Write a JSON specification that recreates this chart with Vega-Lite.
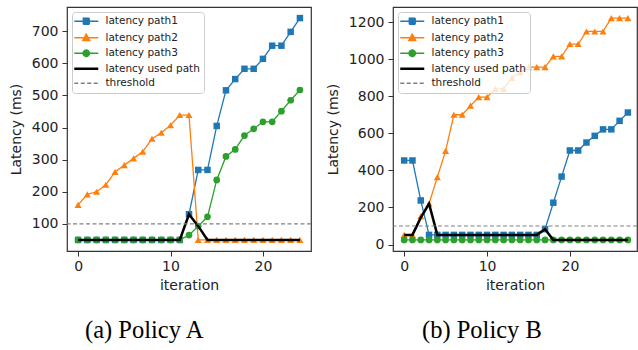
{
  "$schema": "https://vega.github.io/schema/vega-lite/v6.json",
  "padding": {"left": 8, "top": 6, "right": 0, "bottom": 0},
  "spacing": 12,
  "datasets": {
    "a": [
      {"series":"latency path1","iteration":0,"latency":50},{"series":"latency path1","iteration":1,"latency":50},{"series":"latency path1","iteration":2,"latency":50},{"series":"latency path1","iteration":3,"latency":50},{"series":"latency path1","iteration":4,"latency":50},{"series":"latency path1","iteration":5,"latency":50},{"series":"latency path1","iteration":6,"latency":50},{"series":"latency path1","iteration":7,"latency":50},{"series":"latency path1","iteration":8,"latency":50},{"series":"latency path1","iteration":9,"latency":50},{"series":"latency path1","iteration":10,"latency":50},{"series":"latency path1","iteration":11,"latency":50},{"series":"latency path1","iteration":12,"latency":130},{"series":"latency path1","iteration":13,"latency":268},{"series":"latency path1","iteration":14,"latency":268},{"series":"latency path1","iteration":15,"latency":405},{"series":"latency path1","iteration":16,"latency":516},{"series":"latency path1","iteration":17,"latency":551},{"series":"latency path1","iteration":18,"latency":583},{"series":"latency path1","iteration":19,"latency":583},{"series":"latency path1","iteration":20,"latency":614},{"series":"latency path1","iteration":21,"latency":655},{"series":"latency path1","iteration":22,"latency":655},{"series":"latency path1","iteration":23,"latency":698},{"series":"latency path1","iteration":24,"latency":741},
      {"series":"latency path2","iteration":0,"latency":159},{"series":"latency path2","iteration":1,"latency":192},{"series":"latency path2","iteration":2,"latency":200},{"series":"latency path2","iteration":3,"latency":222},{"series":"latency path2","iteration":4,"latency":262},{"series":"latency path2","iteration":5,"latency":283},{"series":"latency path2","iteration":6,"latency":304},{"series":"latency path2","iteration":7,"latency":325},{"series":"latency path2","iteration":8,"latency":365},{"series":"latency path2","iteration":9,"latency":384},{"series":"latency path2","iteration":10,"latency":407},{"series":"latency path2","iteration":11,"latency":439},{"series":"latency path2","iteration":12,"latency":439},{"series":"latency path2","iteration":13,"latency":50},{"series":"latency path2","iteration":14,"latency":50},{"series":"latency path2","iteration":15,"latency":50},{"series":"latency path2","iteration":16,"latency":50},{"series":"latency path2","iteration":17,"latency":50},{"series":"latency path2","iteration":18,"latency":50},{"series":"latency path2","iteration":19,"latency":50},{"series":"latency path2","iteration":20,"latency":50},{"series":"latency path2","iteration":21,"latency":50},{"series":"latency path2","iteration":22,"latency":50},{"series":"latency path2","iteration":23,"latency":50},{"series":"latency path2","iteration":24,"latency":50},
      {"series":"latency path3","iteration":0,"latency":50},{"series":"latency path3","iteration":1,"latency":50},{"series":"latency path3","iteration":2,"latency":50},{"series":"latency path3","iteration":3,"latency":50},{"series":"latency path3","iteration":4,"latency":50},{"series":"latency path3","iteration":5,"latency":50},{"series":"latency path3","iteration":6,"latency":50},{"series":"latency path3","iteration":7,"latency":50},{"series":"latency path3","iteration":8,"latency":50},{"series":"latency path3","iteration":9,"latency":50},{"series":"latency path3","iteration":10,"latency":50},{"series":"latency path3","iteration":11,"latency":50},{"series":"latency path3","iteration":12,"latency":65},{"series":"latency path3","iteration":13,"latency":93},{"series":"latency path3","iteration":14,"latency":122},{"series":"latency path3","iteration":15,"latency":237},{"series":"latency path3","iteration":16,"latency":310},{"series":"latency path3","iteration":17,"latency":332},{"series":"latency path3","iteration":18,"latency":375},{"series":"latency path3","iteration":19,"latency":396},{"series":"latency path3","iteration":20,"latency":418},{"series":"latency path3","iteration":21,"latency":418},{"series":"latency path3","iteration":22,"latency":451},{"series":"latency path3","iteration":23,"latency":485},{"series":"latency path3","iteration":24,"latency":517},
      {"series":"latency used path","iteration":0,"latency":50},{"series":"latency used path","iteration":1,"latency":50},{"series":"latency used path","iteration":2,"latency":50},{"series":"latency used path","iteration":3,"latency":50},{"series":"latency used path","iteration":4,"latency":50},{"series":"latency used path","iteration":5,"latency":50},{"series":"latency used path","iteration":6,"latency":50},{"series":"latency used path","iteration":7,"latency":50},{"series":"latency used path","iteration":8,"latency":50},{"series":"latency used path","iteration":9,"latency":50},{"series":"latency used path","iteration":10,"latency":50},{"series":"latency used path","iteration":11,"latency":50},{"series":"latency used path","iteration":12,"latency":130},{"series":"latency used path","iteration":13,"latency":93},{"series":"latency used path","iteration":14,"latency":50},{"series":"latency used path","iteration":15,"latency":50},{"series":"latency used path","iteration":16,"latency":50},{"series":"latency used path","iteration":17,"latency":50},{"series":"latency used path","iteration":18,"latency":50},{"series":"latency used path","iteration":19,"latency":50},{"series":"latency used path","iteration":20,"latency":50},{"series":"latency used path","iteration":21,"latency":50},{"series":"latency used path","iteration":22,"latency":50},{"series":"latency used path","iteration":23,"latency":50},{"series":"latency used path","iteration":24,"latency":50},
      {"series":"threshold","latency":100}
    ],
    "b": [
      {"series":"latency path1","iteration":0,"latency":454},{"series":"latency path1","iteration":1,"latency":454},{"series":"latency path1","iteration":2,"latency":238},{"series":"latency path1","iteration":3,"latency":52},{"series":"latency path1","iteration":4,"latency":52},{"series":"latency path1","iteration":5,"latency":52},{"series":"latency path1","iteration":6,"latency":52},{"series":"latency path1","iteration":7,"latency":52},{"series":"latency path1","iteration":8,"latency":52},{"series":"latency path1","iteration":9,"latency":52},{"series":"latency path1","iteration":10,"latency":52},{"series":"latency path1","iteration":11,"latency":52},{"series":"latency path1","iteration":12,"latency":52},{"series":"latency path1","iteration":13,"latency":52},{"series":"latency path1","iteration":14,"latency":52},{"series":"latency path1","iteration":15,"latency":52},{"series":"latency path1","iteration":16,"latency":52},{"series":"latency path1","iteration":17,"latency":83},{"series":"latency path1","iteration":18,"latency":226},{"series":"latency path1","iteration":19,"latency":367},{"series":"latency path1","iteration":20,"latency":508},{"series":"latency path1","iteration":21,"latency":508},{"series":"latency path1","iteration":22,"latency":551},{"series":"latency path1","iteration":23,"latency":587},{"series":"latency path1","iteration":24,"latency":622},{"series":"latency path1","iteration":25,"latency":622},{"series":"latency path1","iteration":26,"latency":668},{"series":"latency path1","iteration":27,"latency":713},
      {"series":"latency path2","iteration":0,"latency":52},{"series":"latency path2","iteration":1,"latency":52},{"series":"latency path2","iteration":2,"latency":153},{"series":"latency path2","iteration":3,"latency":220},{"series":"latency path2","iteration":4,"latency":364},{"series":"latency path2","iteration":5,"latency":506},{"series":"latency path2","iteration":6,"latency":701},{"series":"latency path2","iteration":7,"latency":701},{"series":"latency path2","iteration":8,"latency":750},{"series":"latency path2","iteration":9,"latency":796},{"series":"latency path2","iteration":10,"latency":796},{"series":"latency path2","iteration":11,"latency":841},{"series":"latency path2","iteration":12,"latency":841},{"series":"latency path2","iteration":13,"latency":900},{"series":"latency path2","iteration":14,"latency":930},{"series":"latency path2","iteration":15,"latency":958},{"series":"latency path2","iteration":16,"latency":958},{"series":"latency path2","iteration":17,"latency":958},{"series":"latency path2","iteration":18,"latency":1016},{"series":"latency path2","iteration":19,"latency":1016},{"series":"latency path2","iteration":20,"latency":1083},{"series":"latency path2","iteration":21,"latency":1083},{"series":"latency path2","iteration":22,"latency":1151},{"series":"latency path2","iteration":23,"latency":1151},{"series":"latency path2","iteration":24,"latency":1151},{"series":"latency path2","iteration":25,"latency":1223},{"series":"latency path2","iteration":26,"latency":1223},{"series":"latency path2","iteration":27,"latency":1223},
      {"series":"latency path3","iteration":0,"latency":25},{"series":"latency path3","iteration":1,"latency":25},{"series":"latency path3","iteration":2,"latency":25},{"series":"latency path3","iteration":3,"latency":25},{"series":"latency path3","iteration":4,"latency":25},{"series":"latency path3","iteration":5,"latency":25},{"series":"latency path3","iteration":6,"latency":25},{"series":"latency path3","iteration":7,"latency":25},{"series":"latency path3","iteration":8,"latency":25},{"series":"latency path3","iteration":9,"latency":25},{"series":"latency path3","iteration":10,"latency":25},{"series":"latency path3","iteration":11,"latency":25},{"series":"latency path3","iteration":12,"latency":25},{"series":"latency path3","iteration":13,"latency":25},{"series":"latency path3","iteration":14,"latency":25},{"series":"latency path3","iteration":15,"latency":25},{"series":"latency path3","iteration":16,"latency":25},{"series":"latency path3","iteration":17,"latency":25},{"series":"latency path3","iteration":18,"latency":25},{"series":"latency path3","iteration":19,"latency":25},{"series":"latency path3","iteration":20,"latency":25},{"series":"latency path3","iteration":21,"latency":25},{"series":"latency path3","iteration":22,"latency":25},{"series":"latency path3","iteration":23,"latency":25},{"series":"latency path3","iteration":24,"latency":25},{"series":"latency path3","iteration":25,"latency":25},{"series":"latency path3","iteration":26,"latency":25},{"series":"latency path3","iteration":27,"latency":25},
      {"series":"latency used path","iteration":0,"latency":52},{"series":"latency used path","iteration":1,"latency":52},{"series":"latency used path","iteration":2,"latency":145},{"series":"latency used path","iteration":3,"latency":220},{"series":"latency used path","iteration":4,"latency":52},{"series":"latency used path","iteration":5,"latency":52},{"series":"latency used path","iteration":6,"latency":52},{"series":"latency used path","iteration":7,"latency":52},{"series":"latency used path","iteration":8,"latency":52},{"series":"latency used path","iteration":9,"latency":52},{"series":"latency used path","iteration":10,"latency":52},{"series":"latency used path","iteration":11,"latency":52},{"series":"latency used path","iteration":12,"latency":52},{"series":"latency used path","iteration":13,"latency":52},{"series":"latency used path","iteration":14,"latency":52},{"series":"latency used path","iteration":15,"latency":52},{"series":"latency used path","iteration":16,"latency":52},{"series":"latency used path","iteration":17,"latency":83},{"series":"latency used path","iteration":18,"latency":25},{"series":"latency used path","iteration":19,"latency":25},{"series":"latency used path","iteration":20,"latency":25},{"series":"latency used path","iteration":21,"latency":25},{"series":"latency used path","iteration":22,"latency":25},{"series":"latency used path","iteration":23,"latency":25},{"series":"latency used path","iteration":24,"latency":25},{"series":"latency used path","iteration":25,"latency":25},{"series":"latency used path","iteration":26,"latency":25},{"series":"latency used path","iteration":27,"latency":25},
      {"series":"threshold","latency":100}
    ]
  },
  "config": {
    "view": {"stroke": "#333", "strokeWidth": 1.2},
    "font": "DejaVu Sans",
    "axis": {"grid": false, "domain": false, "labelFont": "DejaVu Sans", "labelFontSize": 14, "labelColor": "#222", "titleFont": "DejaVu Sans", "titleFontSize": 14, "titleFontWeight": "normal", "titleColor": "#222", "tickColor": "#333", "tickSize": 5, "tickWidth": 1, "format": "d"},
    "axisX": {"labelPadding": 3, "titlePadding": 5, "labelAngle": 0},
    "axisY": {"labelPadding": 4, "titlePadding": 8},
    "legend": {"orient": "top-left", "offset": 5, "padding": 4, "fillColor": "rgba(255,255,255,0.8)", "strokeColor": "#cccccc", "cornerRadius": 3, "labelFont": "DejaVu Sans", "labelFontSize": 10.5, "labelColor": "#222", "symbolSize": 100, "rowPadding": 3.5, "labelOffset": 19, "title": null},
    "title": {"font": "Liberation Serif", "fontSize": 24.5, "fontWeight": "normal", "color": "#000"}
  },
  "resolve": {"legend": {"color": "independent"}, "scale": {"x": "independent", "y": "independent"}},
  "hconcat": [
    {
      "width": 244, "height": 244,
      "title": {"text": "(a) Policy A", "orient": "bottom", "anchor": "start", "frame": "group", "dx": 18, "offset": 27},
      "data": {"name": "a"},
      "encoding": {
        "y": {"field": "latency", "type": "quantitative", "scale": {"domain": [15.5, 775.5], "nice": false, "zero": false}, "axis": {"values": [100, 200, 300, 400, 500, 600, 700], "title": "Latency (ms)"}},
        "color": {"field": "series", "type": "nominal",
          "scale": {"domain": ["latency path1", "latency path2", "latency path3", "latency used path", "threshold"], "range": ["#1f77b4", "#ff7f0e", "#2ca02c", "#000000", "#808080"]},
          "legend": {"encode": {"symbols": {"update": {
            "shape": {"signal": "datum.value==='latency path1' ? 'M-1.4,0H3.4M0.4,-0.6H1.6V0.6H0.4Z' : datum.value==='latency path2' ? 'M-1.4,0H3.4M1,-0.75L1.7,0.55H0.3Z' : datum.value==='latency path3' ? 'M-1.4,0H3.4M1.65,0A0.65,0.65,0,1,1,0.35,0A0.65,0.65,0,1,1,1.65,0Z' : 'M-1.4,0H3.4'"},
            "fill": {"signal": "datum.value==='latency path1' ? '#1f77b4' : datum.value==='latency path2' ? '#ff7f0e' : datum.value==='latency path3' ? '#2ca02c' : 'transparent'"},
            "stroke": {"signal": "datum.value==='latency path1' ? '#1f77b4' : datum.value==='latency path2' ? '#ff7f0e' : datum.value==='latency path3' ? '#2ca02c' : datum.value==='threshold' ? '#808080' : '#000000'"},
            "strokeWidth": {"signal": "datum.value==='latency used path' ? 2.5 : 1.3"},
            "strokeDash": {"signal": "datum.value==='threshold' ? [4,2.5] : [1,0]"},
            "opacity": {"value": 1},
            "size": {"value": 100}
          }}}}
        }
      },
      "layer": [
        {"transform": [{"filter": "datum.series==='latency path1'"}], "mark": {"type": "line", "strokeWidth": 1.3}, "encoding": {"x": {"field": "iteration", "type": "quantitative", "scale": {"domain": [-1.2, 25.2], "nice": false, "zero": false}, "axis": {"values": [0, 10, 20], "title": "iteration"}}}},
        {"transform": [{"filter": "datum.series==='latency path1'"}], "mark": {"type": "point", "shape": "square", "filled": true, "size": 42, "opacity": 1}, "encoding": {"x": {"field": "iteration", "type": "quantitative"}}},
        {"transform": [{"filter": "datum.series==='latency path2'"}], "mark": {"type": "line", "strokeWidth": 1.3}, "encoding": {"x": {"field": "iteration", "type": "quantitative"}}},
        {"transform": [{"filter": "datum.series==='latency path2'"}], "mark": {"type": "point", "shape": "triangle-up", "filled": true, "size": 50, "opacity": 1}, "encoding": {"x": {"field": "iteration", "type": "quantitative"}}},
        {"transform": [{"filter": "datum.series==='latency path3'"}], "mark": {"type": "line", "strokeWidth": 1.3}, "encoding": {"x": {"field": "iteration", "type": "quantitative"}}},
        {"transform": [{"filter": "datum.series==='latency path3'"}], "mark": {"type": "point", "shape": "circle", "filled": true, "size": 45, "opacity": 1}, "encoding": {"x": {"field": "iteration", "type": "quantitative"}}},
        {"transform": [{"filter": "datum.series==='latency used path'"}], "mark": {"type": "line", "strokeWidth": 2.5}, "encoding": {"x": {"field": "iteration", "type": "quantitative"}}},
        {"transform": [{"filter": "datum.series==='threshold'"}], "mark": {"type": "rule", "strokeDash": [4, 2.5], "strokeWidth": 1.2}, "encoding": {}}
      ]
    },
    {
      "width": 244, "height": 244,
      "title": {"text": "(b) Policy B", "orient": "bottom", "anchor": "start", "frame": "group", "dx": 29, "offset": 27},
      "data": {"name": "b"},
      "encoding": {
        "y": {"field": "latency", "type": "quantitative", "scale": {"domain": [-35, 1283], "nice": false, "zero": false}, "axis": {"values": [0, 200, 400, 600, 800, 1000, 1200], "title": "Latency (ms)"}},
        "color": {"field": "series", "type": "nominal",
          "scale": {"domain": ["latency path1", "latency path2", "latency path3", "latency used path", "threshold"], "range": ["#1f77b4", "#ff7f0e", "#2ca02c", "#000000", "#808080"]},
          "legend": {"encode": {"symbols": {"update": {
            "shape": {"signal": "datum.value==='latency path1' ? 'M-1.4,0H3.4M0.4,-0.6H1.6V0.6H0.4Z' : datum.value==='latency path2' ? 'M-1.4,0H3.4M1,-0.75L1.7,0.55H0.3Z' : datum.value==='latency path3' ? 'M-1.4,0H3.4M1.65,0A0.65,0.65,0,1,1,0.35,0A0.65,0.65,0,1,1,1.65,0Z' : 'M-1.4,0H3.4'"},
            "fill": {"signal": "datum.value==='latency path1' ? '#1f77b4' : datum.value==='latency path2' ? '#ff7f0e' : datum.value==='latency path3' ? '#2ca02c' : 'transparent'"},
            "stroke": {"signal": "datum.value==='latency path1' ? '#1f77b4' : datum.value==='latency path2' ? '#ff7f0e' : datum.value==='latency path3' ? '#2ca02c' : datum.value==='threshold' ? '#808080' : '#000000'"},
            "strokeWidth": {"signal": "datum.value==='latency used path' ? 2.5 : 1.3"},
            "strokeDash": {"signal": "datum.value==='threshold' ? [4,2.5] : [1,0]"},
            "opacity": {"value": 1},
            "size": {"value": 100}
          }}}}
        }
      },
      "layer": [
        {"transform": [{"filter": "datum.series==='latency path1'"}], "mark": {"type": "line", "strokeWidth": 1.3}, "encoding": {"x": {"field": "iteration", "type": "quantitative", "scale": {"domain": [-1.35, 28.1], "nice": false, "zero": false}, "axis": {"values": [0, 10, 20], "title": "iteration"}}}},
        {"transform": [{"filter": "datum.series==='latency path1'"}], "mark": {"type": "point", "shape": "square", "filled": true, "size": 42, "opacity": 1}, "encoding": {"x": {"field": "iteration", "type": "quantitative"}}},
        {"transform": [{"filter": "datum.series==='latency path2'"}], "mark": {"type": "line", "strokeWidth": 1.3}, "encoding": {"x": {"field": "iteration", "type": "quantitative"}}},
        {"transform": [{"filter": "datum.series==='latency path2'"}], "mark": {"type": "point", "shape": "triangle-up", "filled": true, "size": 50, "opacity": 1}, "encoding": {"x": {"field": "iteration", "type": "quantitative"}}},
        {"transform": [{"filter": "datum.series==='latency path3'"}], "mark": {"type": "line", "strokeWidth": 1.3}, "encoding": {"x": {"field": "iteration", "type": "quantitative"}}},
        {"transform": [{"filter": "datum.series==='latency path3'"}], "mark": {"type": "point", "shape": "circle", "filled": true, "size": 45, "opacity": 1}, "encoding": {"x": {"field": "iteration", "type": "quantitative"}}},
        {"transform": [{"filter": "datum.series==='latency used path'"}], "mark": {"type": "line", "strokeWidth": 2.5}, "encoding": {"x": {"field": "iteration", "type": "quantitative"}}},
        {"transform": [{"filter": "datum.series==='threshold'"}], "mark": {"type": "rule", "strokeDash": [4, 2.5], "strokeWidth": 1.2}, "encoding": {}}
      ]
    }
  ]
}
